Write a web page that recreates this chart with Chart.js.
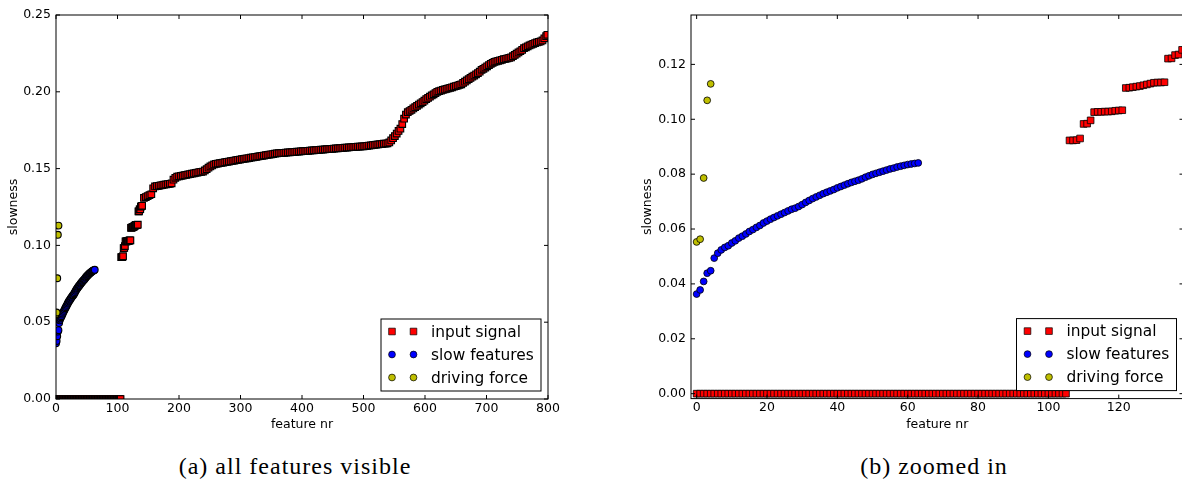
<!DOCTYPE html>
<html>
<head>
<meta charset="utf-8">
<script src="https://cdn.jsdelivr.net/npm/chart.js@4.4.1/dist/chart.umd.min.js"></script>
<style>
  html, body { margin: 0; padding: 0; background: #fff; overflow: hidden; width: 1182px; height: 488px; }
  canvas { position: absolute; top: 0; }
  #left { left: 0; }
  #right { left: 635px; }
  .caption {
    position: absolute; top: 452px; line-height: 28px;
    font-family: 'Liberation Serif', serif; font-size: 24px; letter-spacing: 1px;
    transform: translateX(-50%); white-space: nowrap; color: #000;
  }
</style>
</head>
<body>
<canvas id="left" width="570" height="440"></canvas>
<canvas id="right" width="560" height="440"></canvas>
<div class="caption" style="left:295px">(a) all features visible</div>
<div class="caption" style="left:934px">(b) zoomed in</div>
<script>
// input signal slowness, one value per feature nr 0..140
const inputHead = [
  0, 0, 0, 0, 0, 0, 0, 0, 0, 0, 0, 0, 0, 0, 0, 0, 0, 0, 0, 0,
  0, 0, 0, 0, 0, 0, 0, 0, 0, 0, 0, 0, 0, 0, 0, 0, 0, 0, 0, 0,
  0, 0, 0, 0, 0, 0, 0, 0, 0, 0, 0, 0, 0, 0, 0, 0, 0, 0, 0, 0,
  0, 0, 0, 0, 0, 0, 0, 0, 0, 0, 0, 0, 0, 0, 0, 0, 0, 0, 0, 0,
  0, 0, 0, 0, 0, 0, 0, 0, 0, 0, 0, 0, 0, 0, 0, 0, 0, 0, 0, 0,
  0, 0, 0, 0, 0, 0,
  .0923, .0923, .0924, .0930,
  .0983, .0984, .0996,
  .1026, .1027, .1027, .1028, .1028, .1029, .1031, .1032, .1033,
  .1114, .1115, .1117, .1119, .1121, .1124, .1127, .1130, .1133, .1134, .1134, .1135,
  .1221, .1222, .1234, .1236, .1253,
  .1255, .1258
];

const inputTailNr = [
  143, 146, 149, 152, 155, 158, 161, 164, 167, 170,
  173, 176, 179, 182, 185, 188, 191, 194, 197, 200,
  203, 206, 209, 212, 215, 218, 221, 224, 227, 230,
  233, 236, 239, 242, 245, 248, 251, 254, 257, 260,
  263, 266, 269, 272, 275, 278, 281, 284, 287, 290,
  293, 296, 299, 302, 305, 308, 311, 314, 317, 320,
  323, 326, 329, 332, 335, 338, 341, 344, 347, 350,
  353, 356, 359, 362, 365, 368, 371, 374, 377, 380,
  383, 386, 389, 392, 395, 398, 401, 404, 407, 410,
  413, 416, 419, 422, 425, 428, 431, 434, 437, 440,
  443, 446, 449, 452, 455, 458, 461, 464, 467, 470,
  473, 476, 479, 482, 485, 488, 491, 494, 497, 500,
  503, 506, 509, 512, 515, 518, 521, 524, 527, 530,
  533, 536, 539, 542, 545, 548, 551, 554, 557, 560,
  563, 566, 569, 572, 575, 578, 581, 584, 587, 590,
  593, 596, 599, 602, 605, 608, 611, 614, 617, 620,
  623, 626, 629, 632, 635, 638, 641, 644, 647, 650,
  653, 656, 659, 662, 665, 668, 671, 674, 677, 680,
  683, 686, 689, 692, 695, 698, 701, 704, 707, 710,
  713, 716, 719, 722, 725, 728, 731, 734, 737, 740,
  743, 746, 749, 752, 755, 758, 761, 764, 767, 770,
  773, 776, 779, 782, 785, 788, 791, 794, 797, 799
];
const inputTailSlowness = [
  .1309, .1315, .1321, .1327, .1333, .1372, .1384, .1386, .1388, .1391,
  .1393, .1395, .1397, .1399, .1401, .1404, .1428, .1440, .1447, .1450,
  .1452, .1454, .1457, .1459, .1462, .1464, .1467, .1469, .1472, .1474,
  .1477, .1479, .1481, .1488, .1496, .1506, .1514, .1521, .1527, .1531,
  .1533, .1535, .1537, .1539, .1542, .1544, .1546, .1548, .1550, .1552,
  .1555, .1557, .1559, .1561, .1563, .1565, .1567, .1569, .1571, .1573,
  .1575, .1577, .1579, .1581, .1583, .1585, .1587, .1589, .1591, .1593,
  .1595, .1597, .1599, .1600, .1601, .1602, .1603, .1604, .1605, .1606,
  .1607, .1608, .1609, .1610, .1611, .1612, .1613, .1614, .1615, .1616,
  .1617, .1618, .1619, .1620, .1621, .1622, .1623, .1624, .1625, .1626,
  .1627, .1628, .1629, .1630, .1631, .1632, .1633, .1634, .1635, .1636,
  .1637, .1638, .1639, .1640, .1641, .1642, .1643, .1643, .1644, .1645,
  .1646, .1648, .1650, .1651, .1653, .1654, .1656, .1657, .1659, .1660,
  .1662, .1663, .1665, .1670, .1683, .1698, .1712, .1728, .1745, .1760,
  .1790, .1825, .1852, .1867, .1875, .1883, .1892, .1900, .1908, .1917,
  .1925, .1933, .1942, .1953, .1960, .1968, .1976, .1984, .1992, .2000,
  .2004, .2008, .2012, .2015, .2019, .2022, .2026, .2029, .2033, .2037,
  .2041, .2045, .2049, .2058, .2066, .2074, .2082, .2090, .2098, .2106,
  .2114, .2122, .2131, .2143, .2150, .2158, .2166, .2174, .2182, .2189,
  .2195, .2198, .2202, .2205, .2208, .2212, .2215, .2218, .2221, .2224,
  .2232, .2240, .2248, .2256, .2264, .2273, .2284, .2290, .2296, .2302,
  .2307, .2312, .2317, .2321, .2325, .2328, .2334, .2348, .2362, .2371
];

// slow features, feature nr 0..63
const slowFeatures = [
  .0363, .0378, .0409, .0439, .0448, .0494, .0512, .0524, .0533, .0539,
  .0549, .0557, .0567, .0574, .0582, .0591, .0598, .0606, .0613, .0622,
  .0629, .0636, .0642, .0648, .0654, .0660, .0666, .0672, .0676, .0682,
  .0689, .0697, .0704, .0711, .0717, .0723, .0729, .0734, .0739, .0744,
  .0750, .0755, .0760, .0765, .0770, .0774, .0778, .0783, .0789, .0794,
  .0799, .0803, .0807, .0811, .0815, .0819, .0822, .0826, .0829, .0832,
  .0835, .0837, .0839, .0841
];

// driving force, feature nr 0..4
const drivingForce = [.0553, .0563, .0786, .1069, .1129];

const leftXTicks = [0, 100, 200, 300, 400, 500, 600, 700, 800];
const leftYTicks = [0, 0.05, 0.10, 0.15, 0.20, 0.25];
const rightXTicks = [0, 20, 40, 60, 80, 100, 120];
const rightYTicks = [0, 0.02, 0.04, 0.06, 0.08, 0.10, 0.12];

const inputPoints = inputHead.map((v, i) => ({ x: i, y: v }))
  .concat(inputTailNr.map((n, i) => ({ x: n, y: inputTailSlowness[i] })));
const slowPoints = slowFeatures.map((v, i) => ({ x: i, y: v }));
const drivingPoints = drivingForce.map((v, i) => ({ x: i, y: v }));

const FONT = 'DejaVu Sans';

function makeDatasets(edge) {
  return [
    {
      label: 'input signal', data: inputPoints.slice(), pointStyle: 'rect',
      pointRadius: 4.7, pointHoverRadius: 4.7,
      backgroundColor: '#ff0000', borderColor: '#000', borderWidth: edge, order: 3, clip: 0
    },
    {
      label: 'slow features', data: slowPoints.slice(), pointStyle: 'circle',
      pointRadius: 3.4, pointHoverRadius: 3.4,
      backgroundColor: '#0000ff', borderColor: '#000', borderWidth: edge, order: 2, clip: 0
    },
    {
      label: 'driving force', data: drivingPoints.slice(), pointStyle: 'circle',
      pointRadius: 3.4, pointHoverRadius: 3.4,
      backgroundColor: '#bfbf00', borderColor: '#000', borderWidth: edge, order: 1, clip: 0
    }
  ];
}

// box around the plot with inward ticks on all four sides
const framePlugin = {
  id: 'frame',
  afterDatasetsDraw(chart) {
    const { ctx, chartArea: a, scales } = chart;
    ctx.save();
    ctx.strokeStyle = '#000';
    ctx.lineWidth = 1;
    ctx.strokeRect(a.left, a.top, a.right - a.left, a.bottom - a.top);
    ctx.beginPath();
    scales.x.ticks.forEach(t => {
      const px = scales.x.getPixelForValue(t.value);
      ctx.moveTo(px, a.bottom); ctx.lineTo(px, a.bottom - 4);
      ctx.moveTo(px, a.top); ctx.lineTo(px, a.top + 4);
    });
    scales.y.ticks.forEach(t => {
      const py = scales.y.getPixelForValue(t.value);
      ctx.moveTo(a.left, py); ctx.lineTo(a.left + 4, py);
      ctx.moveTo(a.right, py); ctx.lineTo(a.right - 4, py);
    });
    ctx.stroke();
    ctx.restore();
  }
};

// matplotlib style legend: two markers per entry, lower right corner
const legendPlugin = {
  id: 'mplLegend',
  afterDraw(chart) {
    const { ctx, chartArea: a } = chart;
    const w = 160, h = 72;
    const x0 = a.right - 7 - w, y0 = a.bottom - 8 - h;
    ctx.save();
    ctx.fillStyle = '#fff';
    ctx.fillRect(x0, y0, w, h);
    ctx.strokeStyle = '#000';
    ctx.lineWidth = 1;
    ctx.strokeRect(x0, y0, w, h);
    chart.data.datasets.forEach((ds, i) => {
      const cy = y0 + 12.5 + i * 23;
      [11, 32.5].forEach(dx => {
        ctx.beginPath();
        if (ds.pointStyle === 'rect') {
          const s = ds.pointRadius * Math.SQRT1_2;
          ctx.rect(x0 + dx - s, cy - s, 2 * s, 2 * s);
        } else {
          ctx.arc(x0 + dx, cy, ds.pointRadius, 0, Math.PI * 2);
        }
        ctx.fillStyle = ds.backgroundColor;
        ctx.fill();
        ctx.lineWidth = 0.7;
        ctx.strokeStyle = ds.borderColor;
        ctx.stroke();
      });
      ctx.fillStyle = '#000';
      ctx.font = '15.4px "' + FONT + '"';
      ctx.textBaseline = 'middle';
      ctx.fillText(ds.label, x0 + 50, cy + 1);
    });
    ctx.restore();
  }
};

function makeScales(xr, xTicks, yr, yTicks, xHeight, titlePad) {
  const tickFont = { family: FONT, size: 12.5 };
  return {
    x: {
      type: 'linear', min: xr[0], max: xr[1],
      grid: { display: false, drawTicks: false }, border: { display: false },
      afterBuildTicks: s => { s.ticks = xTicks.map(v => ({ value: v })); },
      afterFit: s => { s.height = xHeight; },
      ticks: { padding: 2, color: '#000', font: tickFont, maxRotation: 0, autoSkip: false, callback: v => String(v) },
      title: { display: true, text: 'feature nr', color: '#000', font: tickFont, padding: { top: 0, bottom: 8 } }
    },
    y: {
      type: 'linear', min: yr[0], max: yr[1],
      grid: { display: false, drawTicks: false }, border: { display: false },
      afterBuildTicks: s => { s.ticks = yTicks.map(v => ({ value: v })); },
      afterFit: s => { s.width = 56; },
      ticks: { padding: 5, color: '#000', font: tickFont, autoSkip: false, callback: v => v.toFixed(2) },
      title: { display: true, text: 'slowness', color: '#000', font: tickFont, padding: { top: titlePad, bottom: 0 } }
    }
  };
}

function makeChart(id, padding, scales, edge) {
  return new Chart(document.getElementById(id), {
    type: 'scatter',
    data: { datasets: makeDatasets(edge) },
    options: {
      responsive: false,
      animation: false,
      events: [],
      layout: { padding },
      scales,
      plugins: { legend: { display: false }, tooltip: { enabled: false } }
    },
    plugins: [framePlugin, legendPlugin]
  });
}

makeChart('left', { top: 15, right: 22, bottom: 0, left: 0 },
  makeScales([0, 800], leftXTicks, [0, 0.25], leftYTicks, 41, 5.8), 1.1);
makeChart('right', { top: 15, right: 11.5, bottom: 0, left: 0 },
  makeScales([-1.6, 138.4], rightXTicks, [-0.0018, 0.138], rightYTicks, 41.4, 4.8), 0.8);
</script>
</body>
</html>
